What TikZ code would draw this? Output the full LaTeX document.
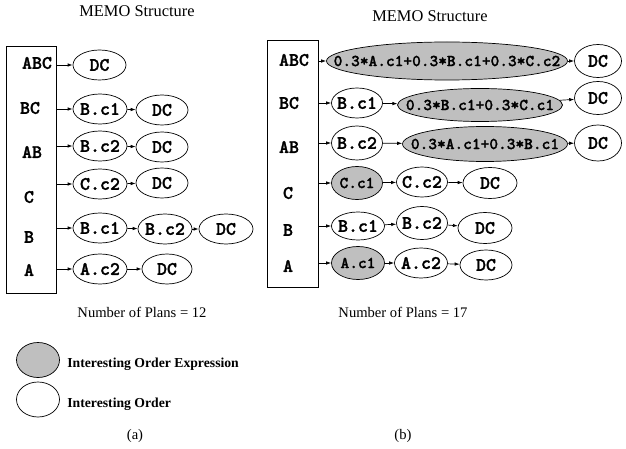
\documentclass[tikz,border=0pt]{standalone}
\usepackage{fontspec}
\setmainfont{Liberation Serif}
\setmonofont{lmmonolt10-bold.otf}[FakeBold=1.5]
\usetikzlibrary{shapes.geometric,arrows.meta}

\begin{document}
\begin{tikzpicture}[x=1pt, y=-1pt, line width=0.7pt,
        ord/.style={draw, ellipse, inner sep=0pt, minimum width=#1, minimum height=30pt,
            font=\ttfamily\fontsize{19}{21}\selectfont,
            execute at begin node=\hbox to 0pt\bgroup\hss,
            execute at end node=\hss\egroup},
        ord/.default=52pt,
        expr/.style={ord=#1, fill=gray!50, font=\ttfamily\fontsize{16.6}{18}\selectfont},
        key/.style={inner sep=0pt, font=\ttfamily\fontsize{19}{21}\selectfont},
        memo/.style={draw, inner sep=0pt, minimum width=50pt, minimum height=247pt},
        txt/.style={inner sep=0pt, font=\fontsize{14.6}{17}\selectfont},
        arr/.style={-{Latex[length=5pt,width=3.5pt]}}]
    \useasboundingbox (0,0) rectangle (626,449);

    % (a)
    \node[txt, font=\fontsize{16.4}{19}\selectfont] (T1) at (137,11) {MEMO Structure};
    \node[memo] (M1) at (31,169.5) {};

    \node[key] (K1) at (37,63) {ABC};
    \node[key] (K2) at (30,108) {BC};
    \node[key] (K3) at (32,152) {AB};
    \node[key] (K4) at (29,197) {C};
    \node[key] (K5) at (29,237) {B};
    \node[key] (K6) at (29,270) {A};

    \node[ord=53pt] (A1) at (99.5,65) {DC};
    \node[ord=54pt] (B1) at (100,109) {B.c1};
    \node[ord] (B2) at (162,110) {DC};
    \node[ord=54pt] (C1) at (100,146) {B.c2};
    \node[ord] (C2) at (162,147) {DC};
    \node[ord=54pt] (D1) at (100,184) {C.c2};
    \node[ord] (D2) at (162,183) {DC};
    \node[ord=54pt] (E1) at (100,228) {B.c1};
    \node[ord=54pt] (E2) at (165,229) {B.c2};
    \node[ord=54pt] (E3) at (226,229) {DC};
    \node[ord=54pt] (F1) at (100,269) {A.c2};
    \node[ord=50pt] (F2) at (167,269) {DC};

    \draw[arr] (M1.east |- A1) -- (A1);
    \draw[arr] (M1.east |- B1) -- (B1);
    \draw[arr] (B1) -- (B2);
    \draw[arr] (M1.east |- C1) -- (C1);
    \draw[arr] (C1) -- (C2);
    \draw[arr] (M1.east |- D1) -- (D1);
    \draw[arr] (D1) -- (D2);
    \draw[arr] (M1.east |- E1) -- (E1);
    \draw[arr] (E1) -- (E2);
    \draw[arr] (E2) -- (E3);
    \draw[arr] (M1.east |- F1) -- (F1);
    \draw[arr] (F1) -- (F2);

    \node[txt] (N1) at (142,312) {Number of Plans = 12};

    % (b)
    \node[txt, font=\fontsize{16.4}{19}\selectfont] (T2) at (430,16) {MEMO Structure};
    \node[memo, minimum width=51pt] (M2) at (292.5,163.5) {};

    \node[key] (R1) at (294,60) {ABC};
    \node[key] (R2) at (289,103) {BC};
    \node[key] (R3) at (289,147) {AB};
    \node[key] (R4) at (288,193) {C};
    \node[key] (R5) at (288,230) {B};
    \node[key] (R6) at (288,266) {A};

    \node[expr=241pt, minimum height=38pt] (G1) at (447,61) {0.3*A.c1+0.3*B.c1+0.3*C.c2};
    \node[ord=47pt, minimum height=33pt] (G2) at (598,61) {DC};
    \node[ord=51pt] (H1) at (357,103) {B.c1};
    \node[expr=165pt, minimum height=33pt] (H2) at (480,105) {0.3*B.c1+0.3*C.c1};
    \node[ord=47pt, minimum height=33pt] (H3) at (598,98) {DC};
    \node[ord=51pt, minimum height=34pt] (I1) at (357,143) {B.c2};
    \node[expr=165pt, minimum height=35pt] (I2) at (485,144) {0.3*A.c1+0.3*B.c1};
    \node[ord=47pt, minimum height=36pt] (I3) at (598,143) {DC};
    \node[expr=51pt, minimum height=33pt] (J1) at (357,183) {C.c1};
    \node[ord=51pt] (J2) at (422,182) {C.c2};
    \node[ord=54pt, minimum height=31pt] (J3) at (490,183) {DC};
    \node[ord=53pt, minimum height=28pt] (L1) at (358,226) {B.c1};
    \node[ord=51pt, minimum height=33pt] (L2) at (422,223) {B.c2};
    \node[ord=54pt, minimum height=31pt] (L3) at (485,228) {DC};
    \node[expr=53pt, minimum height=33pt] (P1) at (358,263) {A.c1};
    \node[ord=53pt] (P2) at (421,263) {A.c2};
    \node[ord] (P3) at (486,265) {DC};

    \draw[arr] (M2.east |- G1) -- (G1);
    \draw[arr] (G1) -- (G2);
    \draw[arr] (M2.east |- H1) -- (H1);
    \draw[arr] (H1) -- (H2);
    \draw[arr] (H2) -- (H3);
    \draw[arr] (M2.east |- I1) -- (I1);
    \draw[arr] (I1) -- (I2);
    \draw[arr] (I2) -- (I3);
    \draw[arr] (M2.east |- J1) -- (J1);
    \draw[arr] (J1) -- (J2);
    \draw[arr] (J2) -- (J3);
    \draw[arr] (M2.east |- L1) -- (L1);
    \draw[arr] (L1) -- (L2);
    \draw[arr] (L2) -- (L3);
    \draw[arr] (M2.east |- P1) -- (P1);
    \draw[arr] (P1) -- (P2);
    \draw[arr] (P2) -- (P3);

    \node[txt] (N2) at (403,312) {Number of Plans = 17};

    % legend
    \node[expr=43pt, minimum height=35pt] (X1) at (38,360) {};
    \node[ord=43pt, minimum height=35pt] (X2) at (38,399.5) {};
    \node[txt, anchor=base west, font=\bfseries\fontsize{13.7}{16}\selectfont] (X3) at (67,367) {Interesting Order Expression};
    \node[txt, anchor=base west, font=\bfseries\fontsize{13.7}{16}\selectfont] (X4) at (67,407) {Interesting Order};

    \node[txt] (S1) at (135,436) {(a)};
    \node[txt] (S2) at (403,436) {(b)};
\end{tikzpicture}
\end{document}
